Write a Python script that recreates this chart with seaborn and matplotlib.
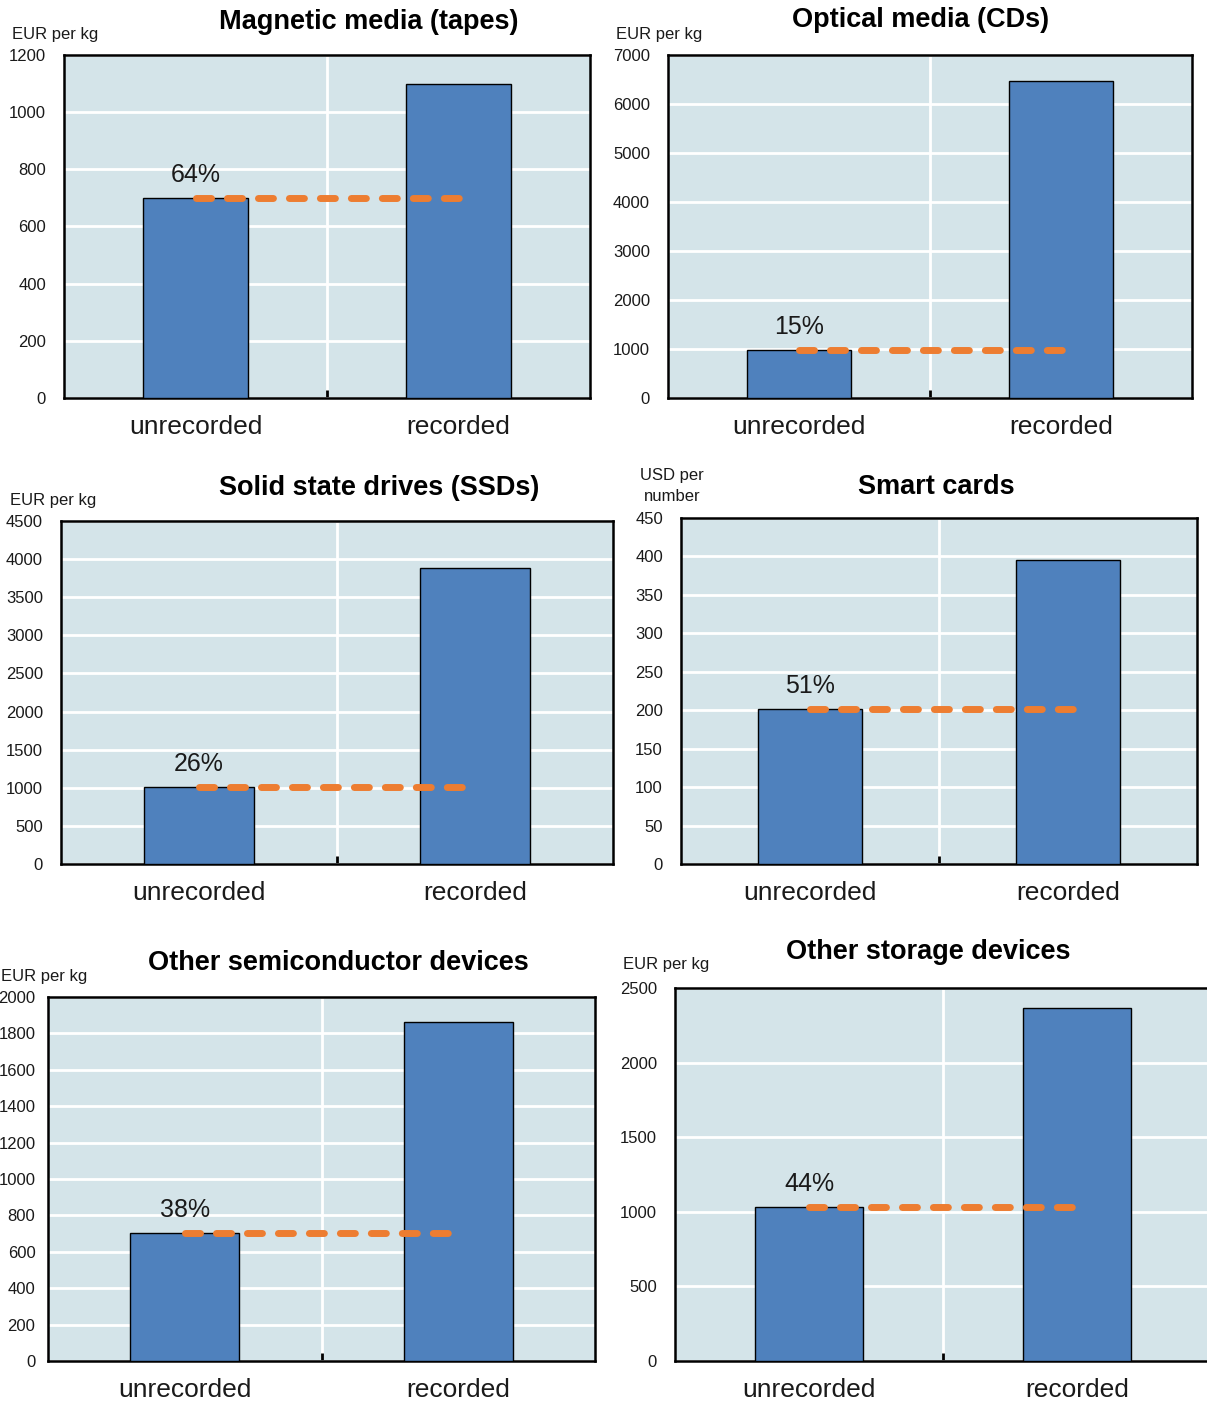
import matplotlib
matplotlib.use("Agg")
import matplotlib.pyplot as plt
import seaborn as sns
import pandas as pd
from matplotlib.ticker import MultipleLocator, FixedLocator

# ---- data -------------------------------------------------------------
categories = ["unrecorded", "recorded"]
titles = ["Magnetic media (tapes)", "Optical media (CDs)", "Solid state drives (SSDs)",
          "Smart cards", "Other semiconductor devices", "Other storage devices"]
units = ["EUR per kg", "EUR per kg", "EUR per kg", "USD per\nnumber", "EUR per kg", "EUR per kg"]
unrecorded = [700, 975, 1010, 202, 703, 1032]
recorded = [1100, 6470, 3883, 395, 1863, 2366]
y_max = [1200, 7000, 4500, 450, 2000, 2500]
y_step = [200, 1000, 500, 50, 200, 500]

# ---- style ------------------------------------------------------------
sns.set_style("white")
FONT = ["Liberation Sans Narrow", "Liberation Sans", "DejaVu Sans"]
plt.rcParams["font.family"] = FONT

BG = "#D4E4E9"
BAR = "#4F81BD"
ORANGE = "#ED7D31"
TXT = "#1a1a1a"

W, H = 1207, 1407
fig = plt.figure(figsize=(W / 100, H / 100), dpi=100)
fig.patch.set_facecolor("white")

# panel frames in pixels: left, right, top, bottom
frames = [(64, 590, 55, 398), (668, 1192, 55, 398),
          (61, 613, 521, 864), (681, 1197, 518, 864),
          (48, 595, 997, 1361), (675, 1211, 988, 1361)]
title_xy = [(369, 22), (921, 20), (379, 488), (936, 487), (338, 963), (928, 952)]
unit_xy = [(12, 35), (616, 34), (10, 501), (640, 486), (1, 976), (623, 965)]
ytick_pad = [13, 13, 13, 13, 9, 13]
DASH_PX = 263  # length of the reference line in pixels

for i in range(6):
    l, r, t, b = frames[i]
    ax = fig.add_axes([l / W, 1 - b / H, (r - l) / W, (b - t) / H])
    ax.set_facecolor(BG)

    df = pd.DataFrame({"type": categories, "value": [unrecorded[i], recorded[i]]})
    sns.barplot(data=df, x="type", y="value", order=categories, color=BAR,
                saturation=1, width=0.4, edgecolor="black", linewidth=1.0,
                ax=ax, zorder=3)

    # dashed reference at the unrecorded price level
    x_end = DASH_PX / ((r - l) / 2)
    ax.plot([0, x_end], [unrecorded[i], unrecorded[i]], color=ORANGE, lw=5,
            linestyle=(0, (2.16, 2.3)), dash_capstyle="round", zorder=4)
    share = round(unrecorded[i] / recorded[i] * 100)
    ax.annotate(f"{share}%", xy=(0, unrecorded[i]), xytext=(0, 8),
                textcoords="offset points", ha="center", va="bottom",
                fontsize=18, color=TXT)

    ax.set_xlim(-0.5, 1.5)
    ax.set_ylim(0, y_max[i])
    ax.yaxis.set_major_locator(MultipleLocator(y_step[i]))
    ax.xaxis.set_minor_locator(FixedLocator([0.5]))
    ax.grid(axis="y", which="major", color="white", lw=2, zorder=0)
    ax.grid(axis="x", which="minor", color="white", lw=2, zorder=0)
    ax.grid(axis="x", which="major", visible=False)
    ax.set_axisbelow(True)

    ax.tick_params(axis="y", which="major", length=0, pad=ytick_pad[i],
                   labelsize=12, labelcolor=TXT)
    ax.tick_params(axis="x", which="major", length=0, pad=12, labelsize=19,
                   labelcolor=TXT)
    ax.tick_params(axis="x", which="minor", direction="in", length=6, width=2,
                   color="black", bottom=True)
    ax.set_xlabel("")
    ax.set_ylabel("")
    for s in ax.spines.values():
        s.set_visible(True)
        s.set_color("black")
        s.set_linewidth(1.8)

    tx, ty = title_xy[i]
    fig.text(tx / W, 1 - ty / H, titles[i], ha="center", va="center",
             fontsize=19.5, fontweight="bold", color="black")
    ux, uy = unit_xy[i]
    fig.text(ux / W, 1 - uy / H, units[i], ha="left", va="center",
             fontsize=12, color=TXT, multialignment="center",
             linespacing=1.55)

fig.savefig("out.png", dpi=100, facecolor="white")
